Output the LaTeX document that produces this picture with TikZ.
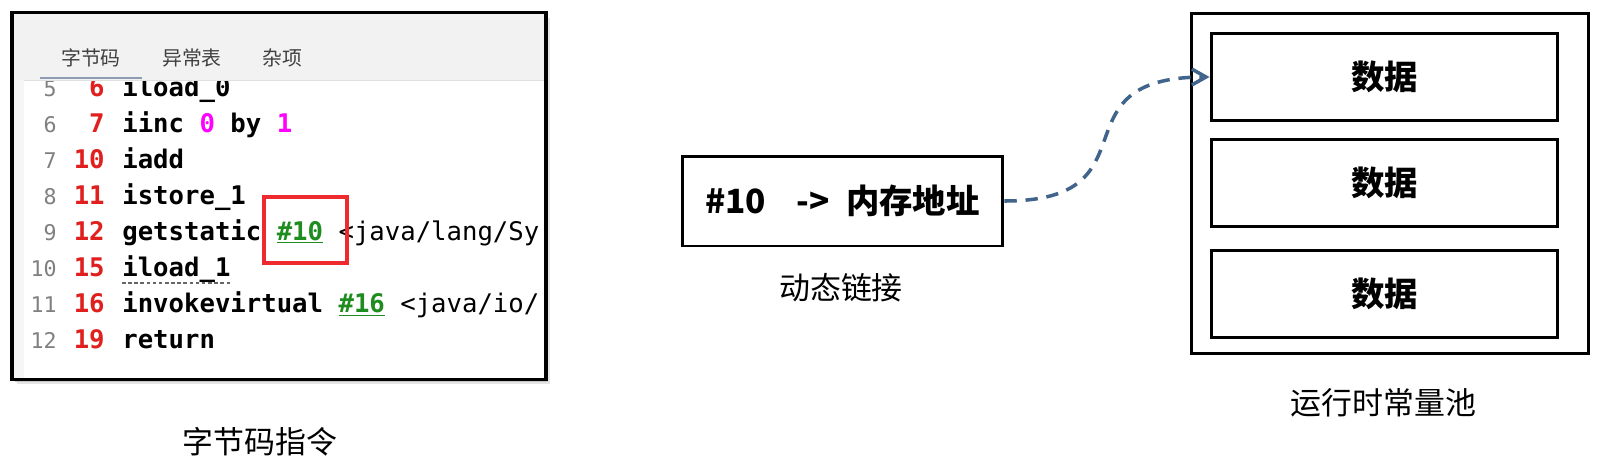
\documentclass[tikz,border=0pt]{standalone}
\usepackage{fontspec}
\setmainfont{Noto Sans CJK SC}
\setmonofont{DejaVu Sans Mono}
\usepackage{xcolor}
\usepackage{tikz}
\usetikzlibrary{arrows.meta, positioning}

\definecolor{linkblue}{HTML}{41648C}
\definecolor{pcred}{HTML}{E0201E}
\definecolor{hired}{HTML}{EE2A2F}
\definecolor{refgreen}{HTML}{1E8C1E}
\definecolor{argpink}{HTML}{FF00FF}
\definecolor{headgray}{HTML}{F2F2F2}
\definecolor{tabblue}{HTML}{8E9DB4}

\begin{document}
\begin{tikzpicture}[x=0.02cm, y=-0.02cm,
    shot/.style={fill=white, minimum width=10.66cm, minimum height=7.32cm, inner sep=0pt},
    tab/.style={inner sep=0pt, text=black!75, font=\fontsize{11.3}{13}\selectfont},
    lnum/.style={anchor=base east, inner sep=0pt, text=black!50, font=\ttfamily\fontsize{12.3}{14}\selectfont},
    pcnum/.style={anchor=base east, inner sep=0pt, text=pcred, font=\ttfamily\bfseries\fontsize{14.6}{17}\selectfont},
    instr/.style={anchor=base west, inner sep=0pt, font=\ttfamily\bfseries\fontsize{14.6}{17}\selectfont},
    box/.style={draw, line width=1.7pt, inner sep=0pt, align=center, font=\bfseries\fontsize{19}{22}\selectfont},
    databox/.style={box, minimum width=6.94cm, minimum height=1.74cm},
    caption/.style={inner sep=0pt, font=\fontsize{17.6}{20}\selectfont},
    link/.style={draw=linkblue, line width=2pt, dash pattern=on 7pt off 5pt, -{Straight Barb[length=8pt, width=9pt]}}
]
    \fill[white] (0,0) rectangle (1602,474);
    \useasboundingbox (0,0) rectangle (1602,474);

    % Bytecode window
    \fill[black!10] (17,18) rectangle (550,384);
    \fill[black!22] (15,16) rectangle (548,382);
    \node[shot] (shot) at (279,196) {};
    \fill[headgray] (shot.north west) rectangle (545.5,80);
    \fill[headgray!70] (12.5,80) rectangle (24,379);
    \draw[black!12] (24,80.5) -- (545.5,80.5);
    \node[tab] (t1) at (91,58) {字节码};
    \node[tab] (t2) at (192,58) {异常表};
    \node[tab] (t3) at (282,58) {杂项};
    \draw[tabblue, line width=1.7pt] (40,78) -- (142,78);

    \begin{scope}
    \clip (24,81) rectangle (544,377);
    \node[lnum] (n5) at (57,96) {5};
    \node[pcnum] (p5) at (105,96) {6};
    \node[instr] (c5) at (122,96) {iload\_0};
    \node[lnum] (n6) at (57,132) {6};
    \node[pcnum] (p6) at (105,132) {7};
    \node[instr] (c6) at (122,132) {iinc \textcolor{argpink}{0} by \textcolor{argpink}{1}};
    \node[lnum] (n7) at (57,168) {7};
    \node[pcnum] (p7) at (105,168) {10};
    \node[instr] (c7) at (122,168) {iadd};
    \node[lnum] (n8) at (57,204) {8};
    \node[pcnum] (p8) at (105,204) {11};
    \node[instr] (c8) at (122,204) {istore\_1};
    \node[lnum] (n9) at (57,240) {9};
    \node[pcnum] (p9) at (105,240) {12};
    \node[instr] (c9) at (122,240) {getstatic \textcolor{refgreen}{\underline{\#10}} \mdseries<java/lang/Sy};
    \node[lnum] (n10) at (57,276) {10};
    \node[pcnum] (p10) at (105,276) {15};
    \node[instr] (c10) at (122,276) {iload\_1};
    \node[lnum] (n11) at (57,312) {11};
    \node[pcnum] (p11) at (105,312) {16};
    \node[instr] (c11) at (122,312) {invokevirtual \textcolor{refgreen}{\underline{\#16}} \mdseries<java/io/};
    \node[lnum] (n12) at (57,348) {12};
    \node[pcnum] (p12) at (105,348) {19};
    \node[instr] (c12) at (122,348) {return};
    \end{scope}
    \draw[black!60, line width=0.8pt, dash pattern=on 2pt off 1.5pt] ([yshift=-4pt]c10.base west) -- ([yshift=-4pt]c10.base east);
    \draw[hired, line width=2pt] (264,197) rectangle (347,263);
    \draw[line width=2pt] (shot.north west) rectangle (shot.south east);
    \node[caption] (cap1) at (260,442) {字节码指令};

    % Dynamic link
    \node[box, minimum width=6.42cm, minimum height=1.8cm] (addr) at (842.5,201) {\#10\hspace{0.9em}->\hspace{0.5em}内存地址};
    \node[caption] (cap2) at (841,288) {动态链接};

    % Runtime constant pool
    \node[box, minimum width=7.96cm, minimum height=6.82cm] (pool) at (1390,183.5) {};
    \node[databox] (data1) at (1384.5,77) {数据};
    \node[databox, below=0.32cm of data1] (data2) {数据};
    \node[databox, below=0.42cm of data2] (data3) {数据};
    \node[caption] (cap3) at (1383.5,403) {运行时常量池};

    \draw[link] (addr.east) .. controls (1160,201) and (1050,77) .. (data1.west);
\end{tikzpicture}
\end{document}
